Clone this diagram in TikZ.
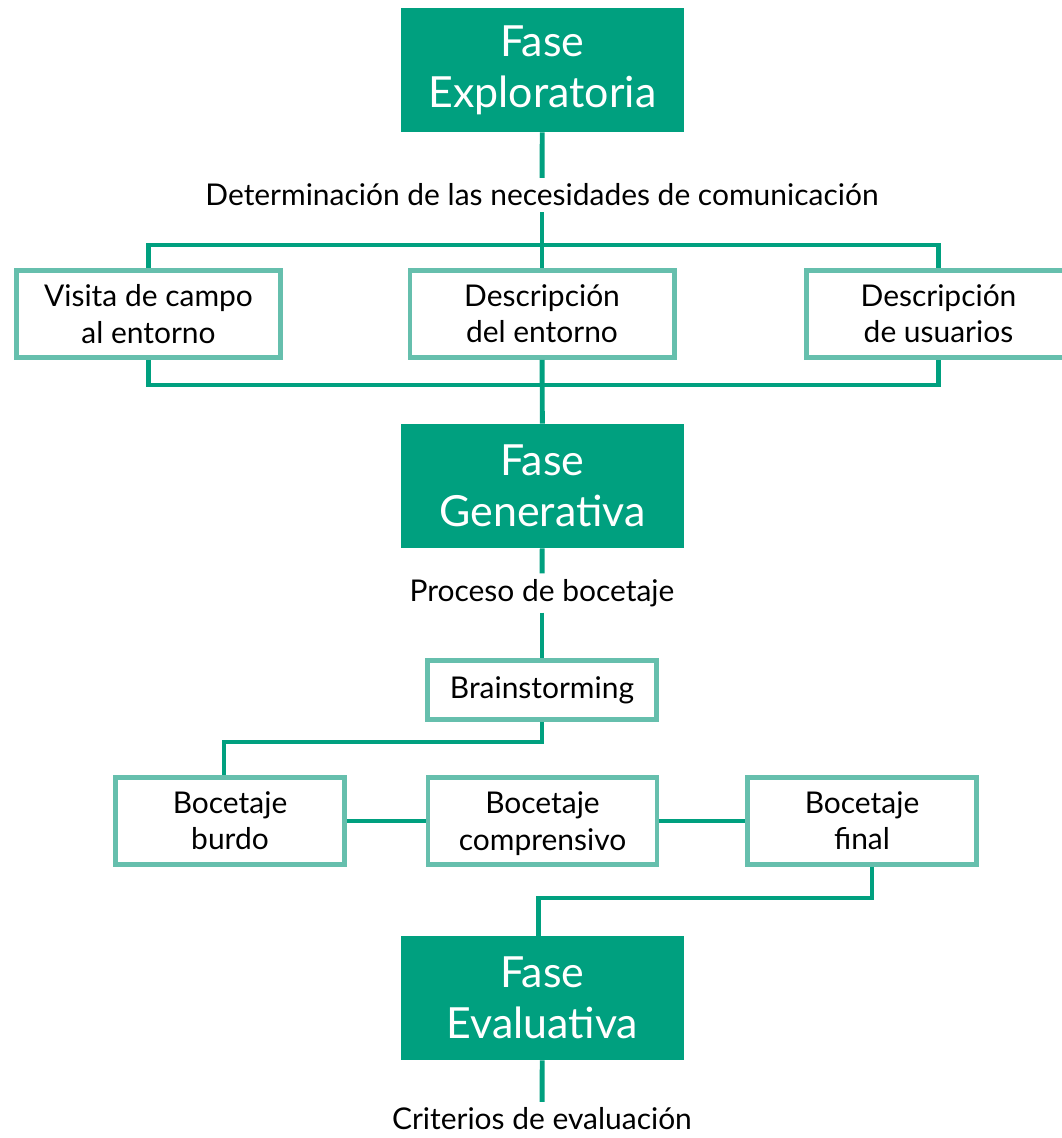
\documentclass[tikz,border=0pt]{standalone}
\usepackage{fontspec}
\setmainfont{Lato}
\usepackage{xcolor}
\usepackage{tikz}

\definecolor{fasegreen}{HTML}{00A07F}
\definecolor{boxteal}{HTML}{66BFAD}

\begin{document}
\begin{tikzpicture}[x=0.025cm, y=-0.025cm,
        fase/.style={fill=fasegreen, text=white, align=center, inner sep=0pt,
            minimum width=7.075cm, minimum height=3.1cm,
            font=\fontsize{30.5}{36.5}\selectfont},
        stepbox/.style={draw=boxteal, line width=3.5pt, fill=white, align=center,
            inner sep=0pt, minimum width=6.6cm, minimum height=2.175cm,
            font=\fontsize{21.3}{25.8}\selectfont},
        sketchbox/.style={stepbox, minimum width=5.725cm},
        note/.style={inner sep=4pt, font=\fontsize{21.3}{25.8}\selectfont},
        link/.style={draw=fasegreen, line width=3.5pt}]
        \useasboundingbox (0,0) rectangle (1062,1138);

        % Exploratory phase
        \draw (542.5,70) node[fase, anchor=center] (expl) {Fase\\Exploratoria};
        \draw (542,195) node[note, anchor=center] (dnec) {Determinación de las necesidades de comunicación};
        \draw (148.5,314) node[stepbox, anchor=center] (vis) {Visita de campo\\al entorno};
        \draw (542,314) node[stepbox, anchor=center] (dent) {Descripción\\del entorno};
        \draw (938.5,314) node[stepbox, anchor=center] (usu) {Descripción\\de usuarios};
        \coordinate (tb) at (542,245);
        \coordinate (bb) at (545,385);
        \draw[link] (expl) -- (dnec);
        \draw[link] (dnec) -- (dent);
        \draw[link] (vis.north) |- (tb) -| (usu.north);
        \draw[link] (vis.south) |- (bb) -| (usu.south);

        % Generative phase
        \draw (542.5,486) node[fase, anchor=center] (gen) {Fase\\Generativa};
        \draw[link] (dent) -- (gen);
        \draw (542,593) node[note, anchor=center] (proc) {Proceso de bocetaje};
        \draw (542,690) node[sketchbox, minimum height=1.475cm, anchor=center] (brain) {Brainstorming};
        \draw (230,821) node[sketchbox, anchor=center] (burdo) {Bocetaje\\burdo};
        \draw (542.5,821) node[sketchbox, anchor=center] (comp) {Bocetaje\\\smash{comprensivo}};
        \draw (862,821) node[sketchbox, anchor=center] (fin) {Bocetaje\\final};
        \draw[link] (gen) -- (proc);
        \draw[link] (proc) -- (brain);
        \draw[link] (brain.south) -- ++(0,20) -| ([xshift=-0.15cm]burdo.north);
        \draw[link] (burdo) -- (comp);
        \draw[link] (comp) -- (fin);

        % Evaluative phase
        \draw (542.5,998) node[fase, anchor=center] (eval) {Fase\\Evaluativa};
        \draw (542,1119) node[note, anchor=center] (crit) {Criterios de evaluación};
        \draw[link] ([xshift=0.25cm]fin.south) -- ++(0,31) -| ([xshift=-0.1cm]eval.north);
        \draw[link] (eval) -- (crit);
    \end{tikzpicture}
\end{document}
